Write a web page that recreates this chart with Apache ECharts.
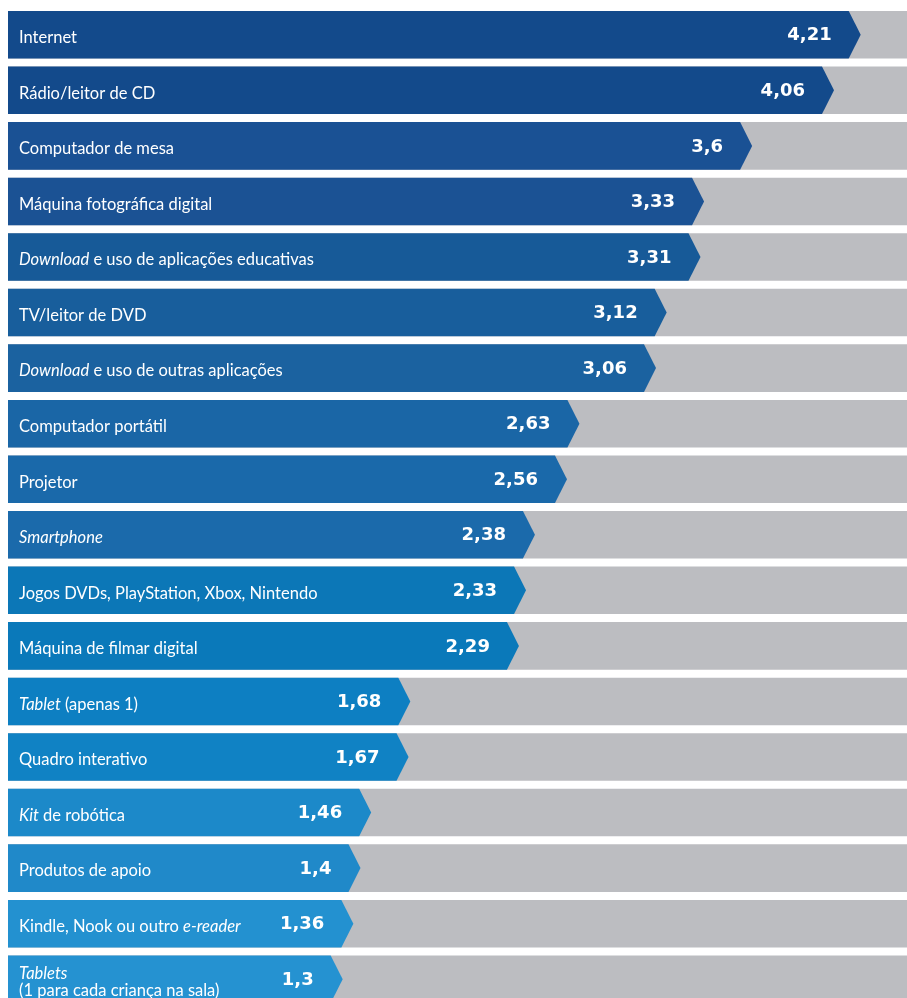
<!DOCTYPE html>
<html>
<head>
<meta charset="utf-8">
<script src="https://cdn.jsdelivr.net/npm/echarts@6/dist/echarts.min.js"></script>
<style>
  html, body { margin: 0; padding: 0; background: #fff; overflow: hidden; }
  #chart { width: 907px; height: 1012px; }
</style>
</head>
<body>
<div id="chart"></div>
<script>
// categorias (as partes em itálico vão marcadas com {i|...})
const categories = [
  'Internet',
  'Rádio/leitor de CD',
  'Computador de mesa',
  'Máquina fotográfica digital',
  '{i|Download} e uso de aplicações educativas',
  'TV/leitor de DVD',
  '{i|Download} e uso de outras aplicações',
  'Computador portátil',
  'Projetor',
  '{i|Smartphone}',
  'Jogos DVDs, PlayStation, Xbox, Nintendo',
  'Máquina de filmar digital',
  '{i|Tablet} (apenas 1)',
  'Quadro interativo',
  '{i|Kit} de robótica',
  'Produtos de apoio',
  'Kindle, Nook ou outro {i|e-reader}',
  '{i|Tablets}\n(1 para cada criança na sala)'
]
const values = [4.21, 4.06, 3.6, 3.33, 3.31, 3.12, 3.06, 2.63, 2.56, 2.38, 2.33, 2.29, 1.68, 1.67, 1.46, 1.4, 1.36, 1.3]
const valueLabels = ['4,21', '4,06', '3,6', '3,33', '3,31', '3,12', '3,06', '2,63', '2,56', '2,38', '2,33', '2,29', '1,68', '1,67', '1,46', '1,4', '1,36', '1,3']
const barColors = [
  '#134a8b', '#134a8b', '#1a5194', '#1b5294', '#175a98', '#185e9c',
  '#1b62a0', '#1a66a6', '#1a69aa', '#1b6aab', '#0c77b7', '#0a79ba',
  '#0d7fc2', '#1082c4', '#1c89c9', '#2089c9', '#2391d0', '#2592d1'
]

const chart = echarts.init(document.getElementById('chart'))

const fontFamily = 'Lato, "Open Sans", sans-serif'

const option = {
  animation: false,
  grid: { left: 8, right: 0, top: 7, height: 1000 },
  xAxis: { type: 'value', min: -0.58, max: 4.47, show: false },
  yAxis: { type: 'category', data: categories, inverse: true, show: false },
  series: [
    {
      type: 'custom',
      data: values.map((v, i) => [v, i]),
      renderItem: function (params, api) {
        const i = api.value(1)
        const cs = params.coordSys
        const p = api.coord([api.value(0), i])
        const band = api.size([0, 1])[1]
        const h = band - 8
        const top = p[1] - h / 2
        const bottom = p[1] + h / 2
        const x0 = cs.x
        const tip = p[0]
        const body = tip - 12
        return {
          type: 'group',
          children: [
            {
              type: 'rect',
              shape: { x: x0, y: top, width: cs.width, height: h },
              style: { fill: '#bcbdc1' }
            },
            {
              type: 'polygon',
              shape: { points: [[x0, top], [body, top], [tip, p[1]], [body, bottom], [x0, bottom]] },
              style: { fill: barColors[i] }
            },
            {
              type: 'text',
              x: x0 + 11,
              y: p[1] + 3,
              style: {
                text: categories[i],
                fill: '#fff',
                font: '16.5px ' + fontFamily,
                verticalAlign: 'middle',
                lineHeight: 17,
                rich: {
                  i: { fontStyle: 'italic', fill: '#fff', fontSize: 16.5, fontFamily: fontFamily, lineHeight: 17 }
                }
              }
            },
            {
              type: 'text',
              x: tip - 29,
              y: p[1] + 1,
              style: {
                text: valueLabels[i],
                fill: '#fff',
                font: 'bold 18px "DejaVu Sans", sans-serif',
                align: 'right',
                verticalAlign: 'middle'
              }
            }
          ]
        }
      }
    }
  ]
}

chart.setOption(option)
</script>
</body>
</html>
